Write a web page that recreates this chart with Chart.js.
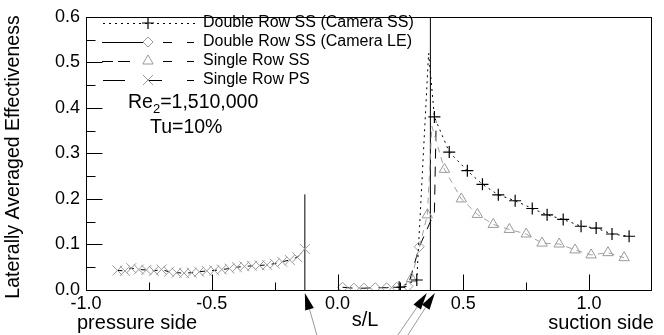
<!DOCTYPE html>
<html>
<head>
<meta charset="utf-8">
<title>Laterally Averaged Effectiveness</title>
<script src="https://cdn.jsdelivr.net/npm/chart.js"></script>
<style>
  html, body { margin: 0; padding: 0; background: #fff; }
  #wrap { width: 664px; height: 335px; }
</style>
</head>
<body>
<div id="wrap"><canvas id="chart" width="664" height="335"></canvas></div>
<script>
// values (s/L, laterally averaged effectiveness)
const camSsX = [0.245, 0.315, 0.362, 0.385, 0.444, 0.516, 0.576, 0.639, 0.706, 0.774, 0.833, 0.897, 0.968, 1.028, 1.091, 1.159];
const camSsY = [0.006, 0.022, 0.520, 0.380, 0.303, 0.262, 0.232, 0.209, 0.196, 0.179, 0.165, 0.155, 0.140, 0.136, 0.123, 0.118];

const camLeX = [0.020, 0.065, 0.105, 0.150, 0.195, 0.235, 0.280, 0.325, 0.385, 0.392];
const camLeY = [0.006, 0.004, 0.004, 0.005, 0.005, 0.006, 0.008, 0.095, 0.170, 0.370];

const srSsX = [0.294, 0.357, 0.375, 0.425, 0.492, 0.556, 0.619, 0.683, 0.750, 0.813, 0.881, 0.944, 1.008, 1.075, 1.139];
const srSsY = [0.025, 0.165, 0.360, 0.265, 0.200, 0.166, 0.144, 0.133, 0.123, 0.103, 0.101, 0.088, 0.077, 0.082, 0.071];

const srPsX = [-0.875, -0.845, -0.820, -0.790, -0.760, -0.730, -0.700, -0.670, -0.640, -0.610, -0.580, -0.550, -0.520,
               -0.490, -0.460, -0.430, -0.400, -0.370, -0.340, -0.310, -0.280, -0.250, -0.220, -0.190, -0.160, -0.130];
const srPsY = [0.043, 0.042, 0.048, 0.045, 0.044, 0.042, 0.045, 0.040, 0.038, 0.037, 0.038, 0.040, 0.042,
               0.043, 0.045, 0.047, 0.050, 0.052, 0.053, 0.054, 0.055, 0.058, 0.062, 0.066, 0.072, 0.090];

// points where the original shows the line but no symbol
const noSymbol = { camSs: [2], camLe: [8, 9], srSs: [2] };

// reference lines: s/L position and height
const refLineX = [-0.13, 0.369];
const refLineTop = [0.21, 0.6];

// arrows under the axis pointing at these s/L values
const arrowAt = [-0.13, 0.355, 0.387];

const xTicks = [-1.0, -0.5, 0.0, 0.5, 1.0];
const yTicks = [0.0, 0.1, 0.2, 0.3, 0.4, 0.5, 0.6];

const seriesNames = ['Double Row SS (Camera SS)', 'Double Row SS (Camera LE)', 'Single Row SS', 'Single Row PS'];

const FONT = '"Liberation Sans", Arial, Helvetica, sans-serif';

function pts(xs, ys) { return xs.map((v, i) => ({ x: v, y: ys[i] })); }
function radiusFn(key, r) { return c => noSymbol[key] && noSymbol[key].includes(c.dataIndex) ? 0 : r; }

const datasets = [
  { label: seriesNames[0], data: pts(camSsX, camSsY), showLine: true,
    borderColor: '#000', borderWidth: 1, borderDash: [2, 4],
    pointStyle: 'cross', pointRadius: radiusFn('camSs', 6), pointBorderColor: '#000', pointBorderWidth: 1.2,
    pointBackgroundColor: 'rgba(0,0,0,0)', order: 0 },
  { label: seriesNames[1], data: pts(camLeX, camLeY), showLine: true,
    borderColor: '#000', borderWidth: 1, borderDash: [10, 8],
    pointStyle: 'rectRot', pointRadius: radiusFn('camLe', 5), pointBorderColor: '#9a9a9a', pointBorderWidth: 1,
    pointBackgroundColor: 'rgba(0,0,0,0)', order: 2 },
  { label: seriesNames[2], data: pts(srSsX, srSsY), showLine: true,
    borderColor: '#a0a0a0', borderWidth: 1, borderDash: [6, 5],
    pointStyle: 'triangle', pointRadius: radiusFn('srSs', 6), pointBorderColor: '#9a9a9a', pointBorderWidth: 1,
    pointBackgroundColor: 'rgba(0,0,0,0)', order: 1 },
  { label: seriesNames[3], data: pts(srPsX, srPsY), showLine: true,
    borderColor: '#000', borderWidth: 1, borderDash: [5, 7],
    pointStyle: 'crossRot', pointRadius: 7, pointBorderColor: '#9a9a9a', pointBorderWidth: 1,
    pointBackgroundColor: 'rgba(0,0,0,0)', order: 3 }
];
refLineX.forEach((s, i) => {
  datasets.push({ label: 'ref' + i, data: [{ x: s, y: 0 }, { x: s, y: refLineTop[i] }], showLine: true,
    borderColor: '#000', borderWidth: 1, pointRadius: 0, order: 5 });
});

const decor = {
  id: 'decor',
  afterDraw(chart) {
    const { ctx, chartArea: a, scales: { x, y } } = chart;
    ctx.save();
    ctx.strokeStyle = '#000';
    ctx.lineWidth = 1;
    // frame
    ctx.strokeRect(Math.round(a.left) + 0.5, Math.round(a.top) + 0.5, Math.round(a.right - a.left) - 1, Math.round(a.bottom - a.top));
    const bot = Math.round(a.bottom) + 0.5, lft = Math.round(a.left) + 0.5;
    // inward ticks, major and minor
    ctx.beginPath();
    yTicks.forEach((v, i) => {
      const py = Math.round(y.getPixelForValue(v)) + 0.5;
      ctx.moveTo(lft, py); ctx.lineTo(lft + 16, py);
      if (i < yTicks.length - 1) {
        const my = Math.round(y.getPixelForValue((v + yTicks[i + 1]) / 2)) + 0.5;
        ctx.moveTo(lft, my); ctx.lineTo(lft + 9, my);
      }
    });
    xTicks.forEach((v, i) => {
      const px = Math.round(x.getPixelForValue(v)) + 0.5;
      ctx.moveTo(px, bot); ctx.lineTo(px, bot - 16);
      if (i < xTicks.length - 1) {
        const mx = Math.round(x.getPixelForValue((v + xTicks[i + 1]) / 2)) + 0.5;
        ctx.moveTo(mx, bot); ctx.lineTo(mx, bot - 8);
      }
    });
    ctx.stroke();

    // axis titles
    ctx.fillStyle = '#000';
    ctx.textAlign = 'center';
    ctx.textBaseline = 'middle';
    ctx.save();
    ctx.translate(14, 157);
    ctx.rotate(-Math.PI / 2);
    ctx.font = '19.5px ' + FONT;
    ctx.fillText('Laterally Averaged Effectiveness', 0, 0);
    ctx.restore();
    ctx.font = '20px ' + FONT;
    ctx.fillText('pressure side', 137, 323);
    ctx.fillText('suction side', 601, 323);
    ctx.fillText('s/L', 365, 320);

    // legend
    const rows = [23, 42, 61, 80];
    const mx = 148;
    ctx.font = '16px ' + FONT;
    ctx.textAlign = 'left';
    rows.forEach((ry, i) => ctx.fillText(seriesNames[i], 203, ry));
    const seg = (x0, x1, yy, col) => { ctx.strokeStyle = col; ctx.beginPath(); ctx.moveTo(x0, yy); ctx.lineTo(x1, yy); ctx.stroke(); };
    // row 1: dotted with plus
    ctx.setLineDash([2, 4]);
    seg(103, 196, rows[0] + 0.5, '#000');
    ctx.setLineDash([]);
    seg(102, 143, rows[1] + 0.5, '#000');
    seg(163, 172, rows[1] + 0.5, '#000');
    seg(187, 194, rows[1] + 0.5, '#000');
    seg(102, 113, rows[2] + 0.5, '#000');
    seg(118, 130, rows[2] + 0.5, '#000');
    seg(163, 172, rows[2] + 0.5, '#000');
    seg(187, 194, rows[2] + 0.5, '#000');
    seg(103, 125, rows[3] + 0.5, '#000');
    seg(147, 162, rows[3] + 0.5, '#000');
    seg(187, 194, rows[3] + 0.5, '#000');
    const meta = [0, 1, 2, 3].map(i => chart.getDatasetMeta(i).dataset.options);
    const pOpts = [0, 1, 2, 3].map(i => chart.data.datasets[i]);
    const r = [6, 5, 6, 7];
    pOpts.forEach((d, i) => {
      ctx.strokeStyle = d.pointBorderColor;
      ctx.fillStyle = 'rgba(0,0,0,0)';
      ctx.lineWidth = d.pointBorderWidth;
      Chart.helpers.drawPoint(ctx, { pointStyle: d.pointStyle, radius: r[i], rotation: 0, borderWidth: d.pointBorderWidth }, mx, rows[i]);
    });
    ctx.lineWidth = 1;

    // Reynolds number and turbulence
    ctx.fillStyle = '#000';
    ctx.font = '19.5px ' + FONT;
    let tx = 128;
    ctx.fillText('Re', tx, 103);
    tx += ctx.measureText('Re').width;
    ctx.font = '13px ' + FONT;
    ctx.fillText('2', tx, 109);
    tx += ctx.measureText('2').width;
    ctx.font = '19.5px ' + FONT;
    ctx.fillText('=1,510,000', tx, 103);
    ctx.fillText('Tu=10%', 150, 128);

    // arrows under the axis
    const lean = [12, -29, -27];
    arrowAt.forEach((s, i) => {
      const tipX = x.getPixelForValue(s), tipY = a.bottom + 3;
      const tailX = tipX + lean[i], tailY = 335;
      const ang = Math.atan2(tipY - tailY, tipX - tailX);
      const len = 17, hw = 4.5;
      const bx = tipX - Math.cos(ang) * len, by = tipY - Math.sin(ang) * len;
      ctx.strokeStyle = '#999';
      ctx.beginPath(); ctx.moveTo(tailX, tailY); ctx.lineTo(bx, by); ctx.stroke();
      ctx.fillStyle = '#000';
      ctx.beginPath();
      ctx.moveTo(tipX, tipY);
      ctx.lineTo(bx - Math.sin(ang) * hw, by + Math.cos(ang) * hw);
      ctx.lineTo(bx + Math.sin(ang) * hw, by - Math.cos(ang) * hw);
      ctx.closePath(); ctx.fill();
    });
    ctx.restore();
  }
};

new Chart(document.getElementById('chart'), {
  type: 'scatter',
  data: { datasets },
  options: {
    responsive: false,
    animation: false,
    layout: { padding: { top: 11, right: 12, left: 0, bottom: 0 } },
    plugins: { legend: { display: false }, tooltip: { enabled: false } },
    scales: {
      x: {
        type: 'linear', min: -1.0, max: 1.25,
        afterBuildTicks: sc => { sc.ticks = xTicks.map(v => ({ value: v })); },
        afterFit: sc => { sc.height = 45; },
        grid: { display: false, drawTicks: false },
        border: { display: false },
        ticks: { padding: 3, color: '#000', maxRotation: 0, font: { family: FONT, size: 18 },
                 callback: v => v.toFixed(1) }
      },
      y: {
        type: 'linear', min: 0, max: 0.6,
        afterBuildTicks: sc => { sc.ticks = yTicks.map(v => ({ value: v })); },
        afterFit: sc => { sc.width = 86; },
        grid: { display: false, drawTicks: false },
        border: { display: false },
        ticks: { padding: 6, color: '#000', font: { family: FONT, size: 18 },
                 callback: v => v.toFixed(1) }
      }
    }
  },
  plugins: [decor]
});
</script>
</body>
</html>
